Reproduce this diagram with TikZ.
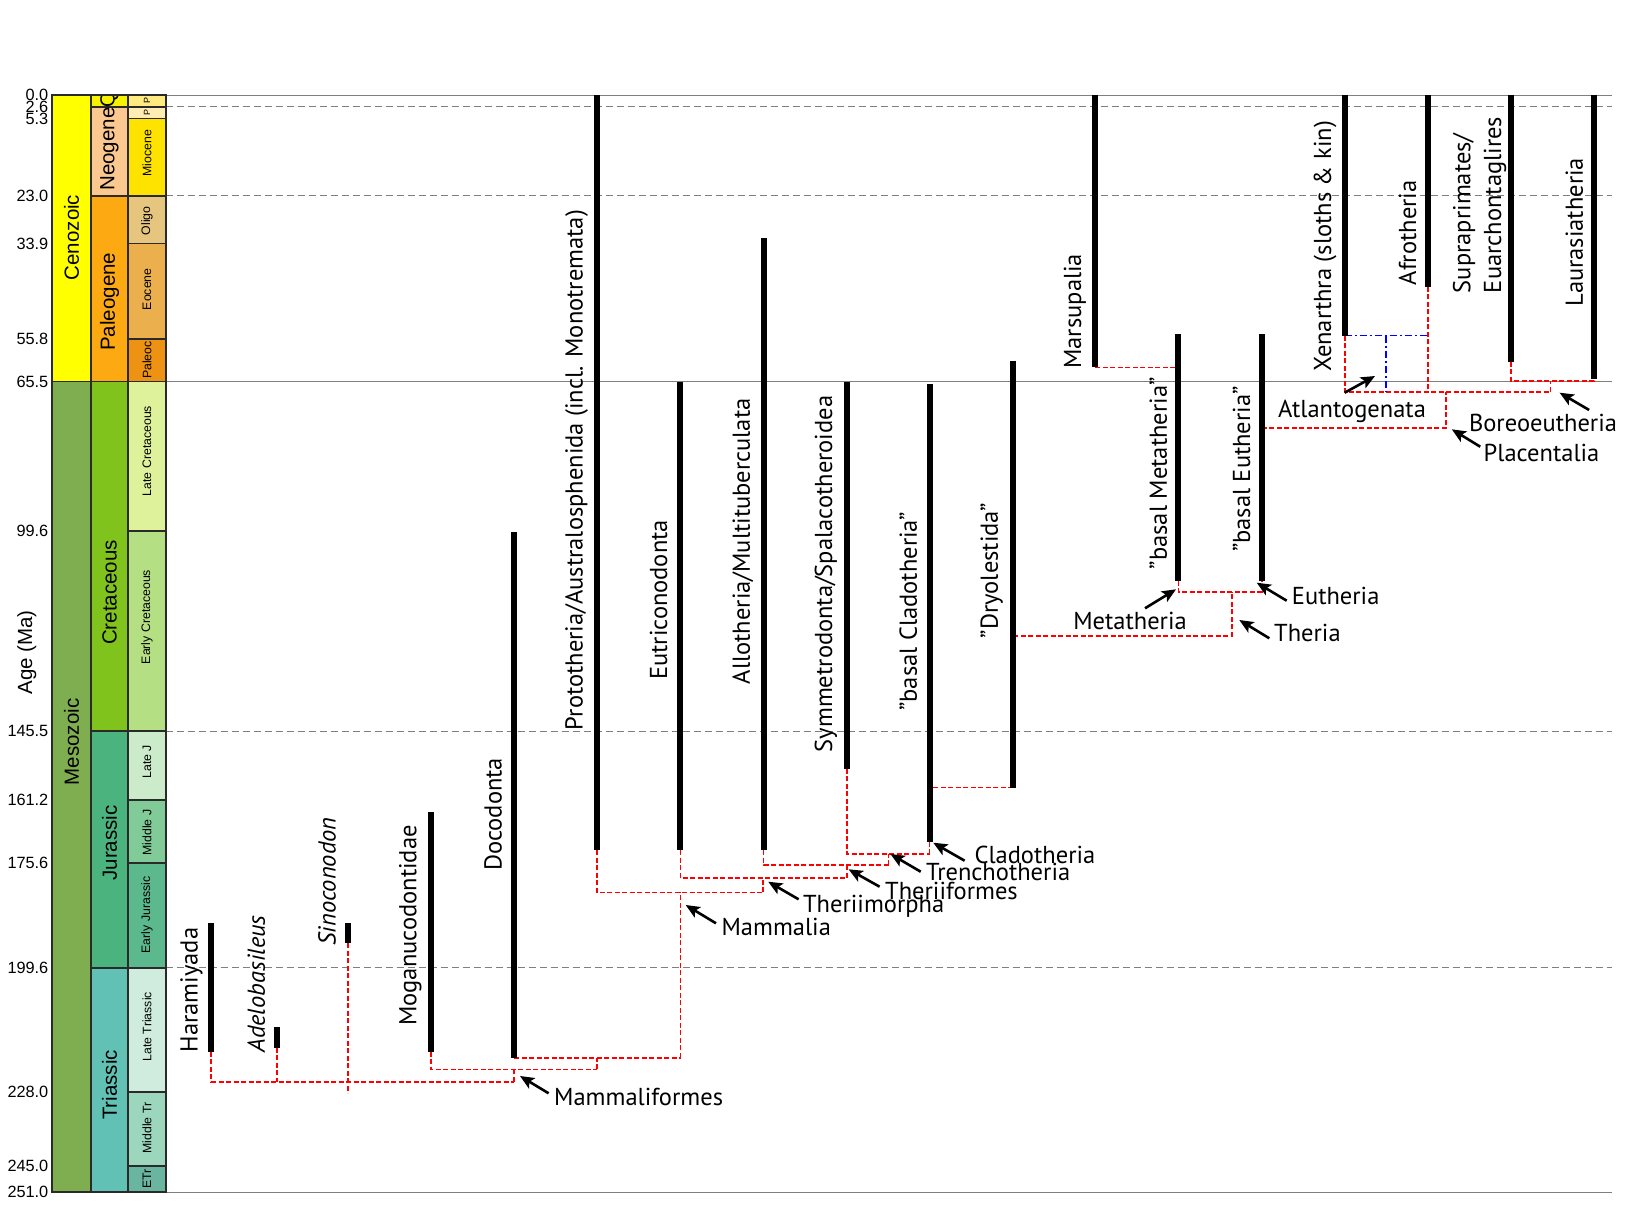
\documentclass[tikz,border=0pt]{standalone}
\usepackage{fontspec}
\setmainfont{PT Sans}
\newfontfamily\arialf{Liberation Sans}
\usetikzlibrary{arrows.meta}
\newcommand\taxf{\fontsize{24.5}{30.7}\selectfont}
\newcommand\perf{\arialf\fontsize{20.5}{24}\selectfont}
\newcommand\epof{\arialf\fontsize{12.3}{14}\selectfont}
\newcommand\tinyf{\arialf\fontsize{9}{10}\selectfont}
\newcommand\agef{\arialf\fontsize{16.3}{18}\selectfont}
\definecolor{gborder}{HTML}{2A2A2A}
\definecolor{cCeno}{HTML}{FFFF00}
\definecolor{cMeso}{HTML}{7FAE50}
\definecolor{cQ}{HTML}{F7F200}
\definecolor{cNeo}{HTML}{FBC88F}
\definecolor{cPaleo}{HTML}{FDA912}
\definecolor{cCret}{HTML}{7FC31C}
\definecolor{cJur}{HTML}{4BB47E}
\definecolor{cTri}{HTML}{62C1B5}
\definecolor{cPle}{HTML}{FFEB80}
\definecolor{cPli}{HTML}{FFEDB3}
\definecolor{cMio}{HTML}{FFE300}
\definecolor{cOli}{HTML}{E6C67F}
\definecolor{cEoc}{HTML}{EBB04D}
\definecolor{cPal}{HTML}{EE9214}
\definecolor{cLK}{HTML}{DDF29A}
\definecolor{cEK}{HTML}{B4DF83}
\definecolor{cLJ}{HTML}{CCEBCA}
\definecolor{cMJ}{HTML}{80CB98}
\definecolor{cEJ}{HTML}{5CB98D}
\definecolor{cLT}{HTML}{CFECDE}
\definecolor{cMT}{HTML}{9BD6BD}
\definecolor{cET}{HTML}{6AB59F}
\definecolor{gline}{HTML}{7F7F7F}
\begin{document}
\begin{tikzpicture}[x=1pt,y=-1pt,
  cell/.style={draw=gborder,line width=1.8pt},
  plab/.style={font=\perf,rotate=90,inner sep=0pt},
  elab/.style={font=\epof,rotate=90,inner sep=0pt},
  agelab/.style={font=\agef,anchor=east,inner sep=0pt},
  solidline/.style={draw=gline,line width=1.2pt},
  dashline/.style={draw=gline,line width=1.2pt,dash pattern=on 7pt off 4pt},
  bar/.style={line width=6pt,black},
  link/.style={draw=red,line width=1.6pt,dash pattern=on 5pt off 2.5pt},
  blink/.style={draw=blue,line width=1.6pt,dash pattern=on 7pt off 3pt on 2pt off 3pt},
  taxon/.style={font=\taxf,rotate=90,inner sep=0pt},
  clade/.style={font=\taxf,anchor=west,inner sep=0pt},
  ptr/.style={line width=2.6pt,black,-{Stealth[length=14pt,width=12pt,inset=3pt]}}]
\useasboundingbox (0,0) rectangle (1629,1206);
\fill[white] (0,0) rectangle (1629,1206);

% time lines
\foreach \yy in {95.3,381.57,1192.3} \draw[solidline] (165.7,\yy) -- (1612,\yy);
\foreach \yy in {106.66,195.82,731.21,967.65} \draw[dashline] (165.7,\yy) -- (1612,\yy);

% geological column: eras
\draw[cell,fill=cCeno] (52.3,95.3) rectangle (90.7,381.57);
\draw[cell,fill=cMeso] (52.3,381.57) rectangle (90.7,1192.3);
% periods
\draw[cell,fill=cQ] (90.7,95.3) rectangle (128.3,106.66);
\draw[cell,fill=cNeo] (90.7,106.66) rectangle (128.3,195.82);
\draw[cell,fill=cPaleo] (90.7,195.82) rectangle (128.3,381.57);
\draw[cell,fill=cCret] (90.7,381.57) rectangle (128.3,731.21);
\draw[cell,fill=cJur] (90.7,731.21) rectangle (128.3,967.65);
\draw[cell,fill=cTri] (90.7,967.65) rectangle (128.3,1192.3);
% epochs
\draw[cell,fill=cPle] (128.3,95.3) rectangle (165.7,106.66);
\draw[cell,fill=cPli] (128.3,106.66) rectangle (165.7,118.46);
\draw[cell,fill=cMio] (128.3,118.46) rectangle (165.7,195.82);
\draw[cell,fill=cOli] (128.3,195.82) rectangle (165.7,243.46);
\draw[cell,fill=cEoc] (128.3,243.46) rectangle (165.7,339.17);
\draw[cell,fill=cPal] (128.3,339.17) rectangle (165.7,381.57);
\draw[cell,fill=cLK] (128.3,381.57) rectangle (165.7,530.6);
\draw[cell,fill=cEK] (128.3,530.6) rectangle (165.7,731.21);
\draw[cell,fill=cLJ] (128.3,731.21) rectangle (165.7,799.83);
\draw[cell,fill=cMJ] (128.3,799.83) rectangle (165.7,862.76);
\draw[cell,fill=cEJ] (128.3,862.76) rectangle (165.7,967.65);
\draw[cell,fill=cLT] (128.3,967.65) rectangle (165.7,1091.77);
\draw[cell,fill=cMT] (128.3,1091.77) rectangle (165.7,1166.07);
\draw[cell,fill=cET] (128.3,1166.07) rectangle (165.7,1192.3);

% column labels
\node[plab] (ceno) at (71.5,237.5) {Cenozoic};
\node[plab] (meso) at (71.5,742) {Mesozoic};
\begin{scope}
\clip (91.6,96.2) rectangle (127.4,105.8);
\node[plab,anchor=west] (quat) at (109.5,107.5) {Q};
\end{scope}
\node[plab] (neog) at (109.5,149) {Neogene};
\node[plab] (paleog) at (109.5,301.7) {Paleogene};
\node[plab] (cret) at (109.5,592.5) {Cretaceous};
\node[plab] (jur) at (109.5,843) {Jurassic};
\node[plab] (tri) at (109.5,1085) {Triassic};
\begin{scope}
\clip (129.2,96.2) rectangle (164.8,117.6);
\node[elab,font=\tinyf] (ple) at (147,101) {P};
\node[elab,font=\tinyf] (pli) at (147,112.6) {P};
\end{scope}
\node[elab] (mio) at (147,153.3) {Miocene};
\node[elab] (oli) at (147,220.8) {Oligo};
\node[elab] (eoc) at (147,289.2) {Eocene};
\node[elab] (pal) at (147,360) {Paleoc};
\node[elab] (lk) at (147,451) {Late Cretaceous};
\node[elab] (ek) at (147,617) {Early Cretaceous};
\node[elab] (lj) at (147,761.7) {Late J};
\node[elab] (mj) at (147,832.5) {Middle J};
\node[elab] (ej) at (147,915) {Early Jurassic};
\node[elab] (lt) at (147,1026.7) {Late Triassic};
\node[elab] (mt) at (147,1128) {Middle Tr};
\node[elab] (et) at (147,1179) {ETr};

% age labels
\foreach \yy/\t [count=\i] in {95.3/0.0,106.66/2.6,118.46/5.3,195.82/23.0,243.46/33.9,339.17/55.8,381.57/65.5,530.6/99.6,731.21/145.5,799.83/161.2,862.76/175.6,967.65/199.6,1091.77/228.0,1166.07/245.0,1192.3/251.0}
  \node[agelab] (age\i) at (48.5,\yy) {\t};
\node[plab] (agetitle) at (26.7,652.5) {Age (Ma)};

% bar ends
\coordinate (hara-t) at (211,923.3);   \coordinate (hara-b) at (211,1051.7);
\coordinate (adel-t) at (277,1027.3);  \coordinate (adel-b) at (277,1047.7);
\coordinate (sino-t) at (348.2,923.3); \coordinate (sino-b) at (348.2,943.3);
\coordinate (moga-t) at (431,812.3);   \coordinate (moga-b) at (431,1051.7);
\coordinate (doco-t) at (514,532);     \coordinate (doco-b) at (514,1057.7);
\coordinate (prot-t) at (597.1,95.3);  \coordinate (prot-b) at (597.1,850);
\coordinate (eutr-t) at (680.4,381.6); \coordinate (eutr-b) at (680.4,850);
\coordinate (allo-t) at (763.6,238);   \coordinate (allo-b) at (763.6,850);
\coordinate (symm-t) at (846.8,381.6); \coordinate (symm-b) at (846.8,768.8);
\coordinate (clad-t) at (929.6,384.4); \coordinate (clad-b) at (929.6,841.7);
\coordinate (dryo-t) at (1013,360.5);  \coordinate (dryo-b) at (1013,787.5);
\coordinate (mars-t) at (1095.4,95.3); \coordinate (mars-b) at (1095.4,367.3);
\coordinate (meta-t) at (1178.4,334);  \coordinate (meta-b) at (1178.4,580.7);
\coordinate (euth-t) at (1261.8,334);  \coordinate (euth-b) at (1261.8,580.7);
\coordinate (xena-t) at (1344.7,95.3); \coordinate (xena-b) at (1344.7,335.5);
\coordinate (afro-t) at (1428,95.3);   \coordinate (afro-b) at (1428,286.7);
\coordinate (supr-t) at (1511.2,95.3); \coordinate (supr-b) at (1511.2,361.7);
\coordinate (laur-t) at (1594.3,95.3); \coordinate (laur-b) at (1594.3,379);
% junctions
\coordinate (mfj) at (514,1081.7);
\coordinate (sino-e) at (348.2,1093.3);
\coordinate (j2) at (514,1069.3);
\coordinate (j2r) at (596.8,1069.3);
\coordinate (j4) at (680.5,1057.7);
\coordinate (mam) at (680.5,892.3);
\coordinate (thm) at (763.2,892.3);
\coordinate (thf) at (846.8,877.7);
\coordinate (trj) at (888.6,865);
\coordinate (clj) at (929.6,854);
\coordinate (the) at (1231.7,635.7);
\coordinate (thj) at (1231.7,591.7);
\coordinate (plj) at (1446.2,427.7);
\coordinate (plt) at (1446.2,391.7);
\coordinate (atl) at (1386,391.7);
\coordinate (bor) at (1550.4,391.7);
\coordinate (borj) at (1550.4,381);

% red links
\draw[link] (hara-b) |- (mfj);
\draw[link] (adel-b) -- (adel-b |- mfj);
\draw[link] (sino-b) -- (sino-e);
\draw[link] (mfj) -- (j2);
\draw[link] (moga-b) |- (j2r);
\draw[link] (j2r) -- (j2r |- j4);
\draw[link] (doco-b) -- (j4);
\draw[link] (j4) -- (mam);
\draw[link] (prot-b) |- (thm);
\draw[link] (thm) -- (thm |- thf);
\draw[link] (eutr-b) |- (thf);
\draw[link] (thf) -- (thf |- trj);
\draw[link] (allo-b) |- (trj);
\draw[link] (trj) -- (trj |- clj);
\draw[link] (symm-b) |- (clj);
\draw[link] (clj) -- (clad-b);
\draw[link] (dryo-b) -- (dryo-b -| clad-b);
\draw[link] (dryo-b |- the) -- (the) -- (thj);
\draw[link] (meta-b) |- (euth-b |- thj) -- (euth-b);
\draw[link] (mars-b) -- (mars-b -| meta-b);
\draw[link] (euth-b |- plj) -- (plj) -- (plt);
\draw[link] (xena-b) |- (bor);
\draw[link] (afro-b) -- (afro-b |- bor);
\draw[link] (bor) -- (borj);
\draw[link] (supr-b) |- (laur-b |- borj) -- (laur-b);
\draw[blink] (xena-b) -- (xena-b -| afro-b);
\draw[blink] (atl |- xena-b) -- (atl);

% bars
\foreach \n in {hara,adel,sino,moga,doco,prot,eutr,allo,symm,clad,dryo,mars,meta,euth,xena,afro,supr,laur}
  \draw[bar] (\n-t) -- (\n-b);

% taxon labels
\node[taxon] (lhara) at (191.4,989.9) {Haramiyada};
\node[taxon] (ladel) at (256.4,983.9) {\itshape Adelobasileus};
\node[taxon] (lsino) at (327,881.4) {\itshape Sinoconodon};
\node[taxon] (lmoga) at (410.4,925.5) {Moganucodontidae};
\node[taxon] (ldoco) at (493.2,814.4) {Docodonta};
\node[taxon] (lprot) at (576.6,470) {Prototheria/Australosphenida (incl. Monotremata)};
\node[taxon] (leutr) at (658.7,600) {Eutriconodonta};
\node[taxon] (lallo) at (742.8,541.3) {Allotheria/Multituberculata};
\node[taxon] (lsymm) at (826,574) {Symmetrodonta/Spalacotheroidea};
\node[taxon] (lclad) at (908.3,611.2) {”basal Cladotheria”};
\node[taxon] (ldryo) at (991.7,570.5) {”Dryolestida”};
\node[taxon] (lmars) at (1075,311.2) {Marsupalia};
\node[taxon] (lmeta) at (1158.3,473.4) {”basal Metatheria”};
\node[taxon] (leuth) at (1241.7,469.2) {”basal Eutheria”};
\node[taxon] (lxena) at (1325,246.4) {Xenarthra (sloths \& kin)};
\node[taxon] (lafro) at (1407.5,232.9) {Afrotheria};
\node[taxon,anchor=west,align=left] (lsupr) at (1479.7,293.3) {Supraprimates/\\Euarchontaglires};
\node[taxon] (llaur) at (1574.4,232) {Laurasiatheria};

% clade labels and pointers
\node[clade] (cmf) at (554,1096.7) {Mammaliformes};
\node[clade] (cmam) at (721.4,926.7) {Mammalia};
\node[clade] (cthm) at (802.9,906) {Theriimorpha};
\node[clade] (cthf) at (885,891) {Theriiformes};
\node[clade] (ctre) at (926,871.7) {Trenchotheria};
\node[clade] (ccla) at (974.3,855) {Cladotheria};
\node[clade,anchor=center] (cmeta) at (1130,621) {Metatheria};
\node[clade] (ceuth) at (1291.7,596) {Eutheria};
\node[clade] (cther) at (1274,633.3) {Theria};
\node[clade,anchor=center] (catl) at (1352,411) {Atlantogenata};
\node[clade,anchor=center] (cbor) at (1543,423.3) {Boreoeutheria};
\node[clade,anchor=center] (cpla) at (1541.5,453.3) {Placentalia};

\coordinate (a1s) at (548.6,1093.3); \coordinate (a1e) at (520,1076);
\coordinate (a2s) at (716,923.3);    \coordinate (a2e) at (685.7,905);
\coordinate (a3s) at (798.6,899.3);  \coordinate (a3e) at (768.2,881.7);
\coordinate (a4s) at (879.6,886.7);  \coordinate (a4e) at (848.6,869.3);
\coordinate (a5s) at (920.7,871.7);  \coordinate (a5e) at (890.4,854);
\coordinate (a6s) at (964.6,860.7);  \coordinate (a6e) at (933.2,842.7);
\coordinate (a7s) at (1145,608.3);   \coordinate (a7e) at (1176,589.3);
\coordinate (a8s) at (1286.7,600.7); \coordinate (a8e) at (1256.7,582.7);
\coordinate (a9s) at (1269.3,638.3); \coordinate (a9e) at (1239.3,620);
\coordinate (a10s) at (1344.7,392.7); \coordinate (a10e) at (1375,376);
\coordinate (a11s) at (1589.1,410);  \coordinate (a11e) at (1559.6,392.7);
\coordinate (a12s) at (1480.2,446.7); \coordinate (a12e) at (1451.8,429.3);
\foreach \i in {1,...,12} \draw[ptr] (a\i s) -- (a\i e);
\end{tikzpicture}
\end{document}
